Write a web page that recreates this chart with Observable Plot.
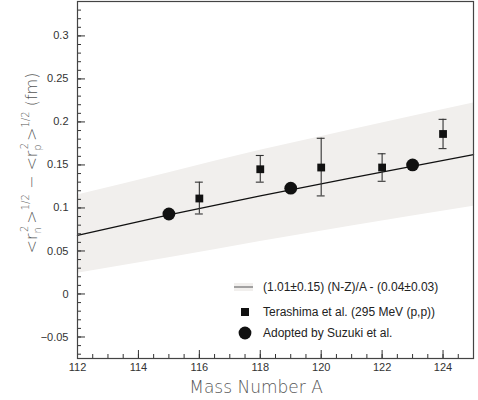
<!DOCTYPE html>
<html>
<head>
<meta charset="utf-8">
<script src="https://cdn.jsdelivr.net/npm/d3@7"></script>
<script src="https://cdn.jsdelivr.net/npm/@observablehq/plot@0.6"></script>
<style>
  html, body { margin: 0; padding: 0; background: #fff; }
</style>
</head>
<body>
<div id="chart"></div>
<script>
// Fit line and uncertainty band, read at several mass numbers
const fitMass = [112, 115, 118, 121, 125];
const fitValue = [0.068, 0.092, 0.114, 0.135, 0.162];
const bandUpper = [0.115, 0.141, 0.167, 0.191, 0.222];
const bandLower = [0.024, 0.042, 0.061, 0.079, 0.102];

// Terashima et al. (295 MeV (p,p))
const terMass = [116, 118, 120, 122, 124];
const terValue = [0.111, 0.145, 0.147, 0.147, 0.186];
const terLow = [0.093, 0.130, 0.114, 0.131, 0.169];
const terHigh = [0.130, 0.161, 0.181, 0.163, 0.203];

// Adopted by Suzuki et al.
const suzMass = [115, 119, 123];
const suzValue = [0.093, 0.123, 0.150];

// Axis ticks
const xMajorTicks = [112, 114, 116, 118, 120, 122, 124];
const yMajorTicks = [-0.05, 0, 0.05, 0.1, 0.15, 0.2, 0.25, 0.3];

const legendLabels = [
  "(1.01\u00b10.15) (N-Z)/A - (0.04\u00b10.03)",
  "Terashima et al. (295 MeV (p,p))",
  "Adopted by Suzuki et al."
];

const fit = fitMass.map((A, i) => ({A, v: fitValue[i], hi: bandUpper[i], lo: bandLower[i]}));
const ter = terMass.map((A, i) => ({A, v: terValue[i], lo: terLow[i], hi: terHigh[i]}));
const suz = suzMass.map((A, i) => ({A, v: suzValue[i]}));

const xMinor = d3.range(112, 125.001, 0.5);
const yMinor = d3.range(-7, 35).map(d => d / 100);
const capHalf = 0.13;

const W = 478, H = 400, mL = 77, mR = 5, mT = 1, mB = 42;
const xDomain = [112, 125], yDomain = [-0.075, 0.34];
// convert a pixel length into data units along each axis (for inward ticks)
const xPer = (xDomain[1] - xDomain[0]) / (W - mL - mR);
const yPer = (yDomain[1] - yDomain[0]) / (H - mT - mB);

const bandColor = "#f1efed";
const ink = "#111";
const tickColor = "#333";

const chart = Plot.plot({
  width: W,
  height: H,
  marginLeft: mL,
  marginRight: mR,
  marginTop: mT,
  marginBottom: mB,
  style: {fontFamily: "'Liberation Sans', Arial, sans-serif", fontSize: "11px", color: "#333", background: "#fff"},
  x: {domain: xDomain},
  y: {domain: yDomain},
  marks: [
    Plot.areaY(fit, {x: "A", y1: "lo", y2: "hi", fill: bandColor, curve: "monotone-x"}),
    Plot.lineY(fit, {x: "A", y: "v", stroke: ink, strokeWidth: 1.3, curve: "monotone-x"}),
    Plot.ruleX(ter, {x: "A", y1: "lo", y2: "hi", stroke: "#333", strokeWidth: 1.1}),
    Plot.ruleY(ter, {y: "hi", x1: d => d.A - capHalf, x2: d => d.A + capHalf, stroke: "#333", strokeWidth: 1.1}),
    Plot.ruleY(ter, {y: "lo", x1: d => d.A - capHalf, x2: d => d.A + capHalf, stroke: "#333", strokeWidth: 1.1}),
    Plot.dot(ter, {x: "A", y: "v", symbol: "square", fill: ink, stroke: null, r: 4.4}),
    Plot.dot(suz, {x: "A", y: "v", fill: ink, stroke: null, r: 6.4}),
    // inward ticks
    Plot.ruleX(xMinor, {x: d => d, y1: yDomain[0], y2: yDomain[0] + 4 * yPer, stroke: tickColor, strokeWidth: 1}),
    Plot.ruleX(xMajorTicks, {x: d => d, y1: yDomain[0], y2: yDomain[0] + 8 * yPer, stroke: tickColor, strokeWidth: 1}),
    Plot.ruleY(yMinor, {y: d => d, x1: xDomain[0], x2: xDomain[0] + 4 * xPer, stroke: tickColor, strokeWidth: 1}),
    Plot.ruleY(yMajorTicks, {y: d => d, x1: xDomain[0], x2: xDomain[0] + 8 * xPer, stroke: tickColor, strokeWidth: 1}),
    Plot.axisX({ticks: xMajorTicks, tickSize: 0, tickPadding: 5, label: null, fill: "#333", fontSize: 11}),
    Plot.axisY({ticks: yMajorTicks, tickSize: 0, tickPadding: 9, label: null, fill: "#333", fontSize: 11,
      tickFormat: d => d === 0 ? "0" : d3.format("")(d).replace("-", "\u2212")}),
    Plot.frame({stroke: "#444", strokeWidth: 1.2})
  ]
});

document.getElementById("chart").appendChild(chart);

const svg = d3.select(chart);
const thinFont = "'DejaVu Sans', sans-serif";

// x-axis title
svg.append("text")
  .attr("x", 256).attr("y", 393)
  .attr("text-anchor", "middle")
  .attr("font-family", thinFont)
  .attr("font-weight", 200)
  .attr("font-size", 17)
  .attr("fill", "#555")
  .text("Mass Number A");

// y-axis title
const yt = svg.append("text")
  .attr("transform", "translate(37,163) rotate(-90)")
  .attr("text-anchor", "middle")
  .attr("font-family", thinFont)
  .attr("font-weight", 200)
  .attr("font-size", 16)
  .attr("fill", "#555");
function part(txt, opts = {}) {
  const t = yt.append("tspan").text(txt);
  if (opts.size) t.attr("font-size", opts.size);
  if (opts.dy != null) t.attr("dy", opts.dy);
  if (opts.dx != null) t.attr("dx", opts.dx);
}
function rTerm(sub) {
  part("<r");
  part(sub, {size: 10, dy: 4});
  part("2", {size: 10, dy: -13, dx: -5});
  part(">", {dy: 9, dx: 2});
  part("1/2", {size: 10, dy: -8});
}
rTerm("n");
part(" \u2212 ", {dy: 8});
rTerm("p");
part(" (fm)", {dy: 8});

// legend
const lg = svg.append("g")
  .attr("font-family", "'Liberation Sans', Arial, sans-serif")
  .attr("font-size", 12)
  .attr("text-anchor", "start")
  .attr("fill", "#222");
const rows = [287, 312, 333];
lg.append("rect").attr("x", 234).attr("y", rows[0] - 4).attr("width", 19).attr("height", 8).attr("fill", bandColor);
lg.append("line").attr("x1", 234).attr("x2", 253).attr("y1", rows[0]).attr("y2", rows[0]).attr("stroke", "#777").attr("stroke-width", 1.3);
lg.append("rect").attr("x", 241).attr("y", rows[1] - 4).attr("width", 8).attr("height", 8).attr("fill", ink);
lg.append("circle").attr("cx", 245).attr("cy", rows[2]).attr("r", 6.4).attr("fill", ink);
legendLabels.forEach((s, i) => {
  lg.append("text").attr("x", 263).attr("y", rows[i]).attr("dy", "0.35em").attr("text-anchor", "start").text(s);
});
</script>
</body>
</html>
